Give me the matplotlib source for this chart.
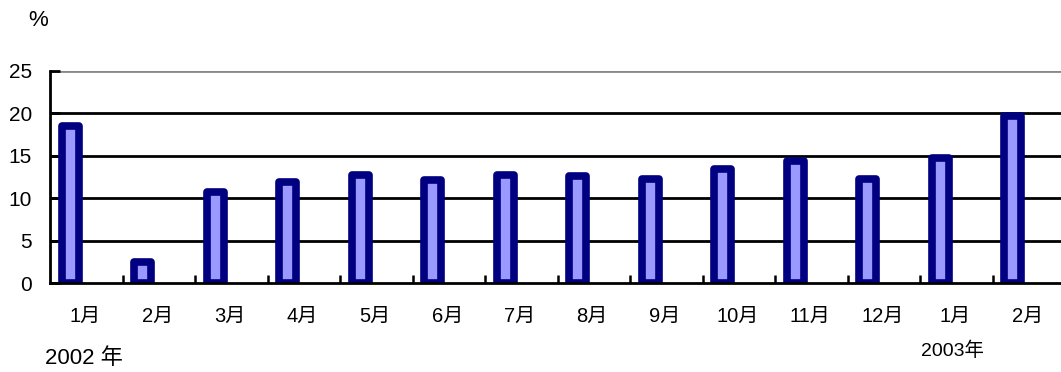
import numpy as np
import matplotlib
matplotlib.use('Agg')
import matplotlib.pyplot as plt

plt.rcParams['font.family'] = ['Liberation Sans', 'Noto Sans CJK SC', 'DejaVu Sans']

meses = ['1月', '2月', '3月', '4月', '5月', '6月', '7月', '8月', '9月', '10月', '11月', '12月', '1月', '2月']
valores = [18.5, 2.5, 10.7, 11.9, 12.7, 12.2, 12.7, 12.6, 12.3, 13.5, 14.4, 12.3, 14.7, 19.7]
yticks = [0, 5, 10, 15, 20, 25]

fig = plt.figure(figsize=(10.61, 3.72), dpi=100)
ax = fig.add_axes([50 / 1061, 88.7 / 372, 1015 / 1061, 212.5 / 372])

x = np.arange(len(valores))
# linhas de grade
for v in yticks[1:]:
    cor = '#888888' if v == 25 else 'black'
    ax.axhline(v, color=cor, lw=2, zorder=1)

ax.bar(x + 0.28, valores, width=0.235, color='#9999ff', edgecolor='#000080',
       linewidth=5.5, joinstyle='round', zorder=3)

ax.set_xlim(0, len(valores))
ax.set_ylim(0, 25)
ax.set_yticks(yticks)
ax.tick_params(axis='y', direction='in', length=7, width=2, pad=13, labelsize=15)

ax.set_xticks(np.arange(1, len(valores)))
ax.set_xticklabels([])
ax.set_xticks(x + 0.48, minor=True)
ax.set_xticklabels(meses, minor=True)
ax.tick_params(axis='x', which='major', direction='in', length=6, width=1.8)
ax.tick_params(axis='x', which='minor', length=0, pad=17, labelsize=14.5)

for s in ['top', 'right']:
    ax.spines[s].set_visible(False)
for s in ['left', 'bottom']:
    ax.spines[s].set_linewidth(2)
    ax.spines[s].set_zorder(4)

fig.text(38 / 1061, 1 - 21 / 372, '%', ha='center', va='center', fontsize=16)
fig.text(45 / 1061, 1 - 359 / 372, '2002 年', ha='left', va='center', fontsize=16)
fig.text(952 / 1061, 1 - 351 / 372, '2003年', ha='center', va='center', fontsize=14)

fig.savefig('out.png', dpi=100)
